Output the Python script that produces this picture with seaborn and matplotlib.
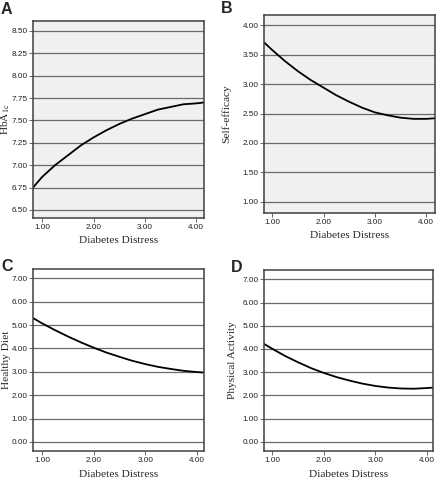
import numpy as np
import pandas as pd
import seaborn as sns
import matplotlib.pyplot as plt

# fitted curves (x = Diabetes Distress)
x_a = [0.82, 1.0, 1.25, 1.5, 1.75, 2.0, 2.25, 2.5, 2.75, 3.0, 3.25, 3.5, 3.75, 4.0, 4.15]
hba1c = [6.75, 6.87, 7.00, 7.11, 7.22, 7.31, 7.39, 7.46, 7.52, 7.57, 7.62, 7.65, 7.68, 7.69, 7.70]

x_b = [0.84, 1.0, 1.25, 1.5, 1.75, 2.0, 2.25, 2.5, 2.75, 3.0, 3.25, 3.5, 3.75, 4.0, 4.17]
self_efficacy = [3.71, 3.58, 3.39, 3.22, 3.07, 2.94, 2.81, 2.70, 2.60, 2.52, 2.47, 2.43, 2.41, 2.41, 2.42]

x_c = [0.82, 1.0, 1.25, 1.5, 1.75, 2.0, 2.25, 2.5, 2.75, 3.0, 3.25, 3.5, 3.75, 4.0, 4.12]
healthy_diet = [5.30, 5.07, 4.78, 4.51, 4.26, 4.03, 3.82, 3.64, 3.47, 3.33, 3.21, 3.12, 3.04, 2.99, 2.97]

x_d = [0.84, 1.0, 1.25, 1.5, 1.75, 2.0, 2.25, 2.5, 2.75, 3.0, 3.25, 3.5, 3.75, 4.0, 4.12]
physical_activity = [4.22, 4.01, 3.70, 3.43, 3.18, 2.97, 2.79, 2.64, 2.51, 2.41, 2.34, 2.30, 2.29, 2.32, 2.34]

x_ticks = [1, 2, 3, 4]
yticks_a = [6.50, 6.75, 7.00, 7.25, 7.50, 7.75, 8.00, 8.25, 8.50]
yticks_b = [1.0, 1.5, 2.0, 2.5, 3.0, 3.5, 4.0]
yticks_cd = [0, 1, 2, 3, 4, 5, 6, 7]

sns.set_style("ticks")
plt.rcParams["mathtext.fontset"] = "stix"

W, H = 439, 480
fig = plt.figure(figsize=(W / 100, H / 100), dpi=100)


def px_axes(l, t, r, b):
    return fig.add_axes([l / W, 1 - b / H, (r - l) / W, (b - t) / H])


panels = [
    # letter, box(l,t,r,b), x, y, xlim, ylim, yticks, ylabel, bg, letter pos, label coords
    ("A", (33, 21, 204, 218), x_a, hba1c, (0.82, 4.15), (6.41, 8.61), yticks_a,
     "HbA$_{\\mathrm{1c}}$", "#f0f0f0", (1, 14), (-0.162, -0.112)),
    ("B", (264, 15, 435, 213), x_b, self_efficacy, (0.84, 4.17), (0.81, 4.175), yticks_b,
     "Self-efficacy", "#f0f0f0", (221, 13), (-0.222, -0.116)),
    ("C", (33, 269, 204, 451), x_c, healthy_diet, (0.82, 4.14), (-0.39, 7.40), yticks_cd,
     "Healthy Diet", "white", (1, 271), (-0.155, -0.13)),
    ("D", (264, 270, 433, 451), x_d, physical_activity, (0.84, 4.12), (-0.39, 7.40), yticks_cd,
     "Physical Activity", "white", (231, 272), (-0.189, -0.13)),
]

for letter, box, xs, ys, xlim, ylim, yt, ylab, bg, lpos, lab in panels:
    ax = px_axes(*box)
    ax.set_facecolor(bg)
    df = pd.DataFrame({"x": xs, "y": ys})
    sns.lineplot(data=df, x="x", y="y", ax=ax, color="black", lw=1.3)
    ax.set_xlim(*xlim)
    ax.set_ylim(*ylim)
    ax.set_xticks(x_ticks)
    ax.set_xticklabels([f"{v:.2f}" for v in x_ticks])
    ax.set_yticks(yt)
    ax.set_yticklabels([f"{v:.2f}" for v in yt])
    ax.yaxis.grid(True, color="#6a6a6a", lw=0.9)
    ax.set_axisbelow(True)
    for s in ax.spines.values():
        s.set_color("#404040")
        s.set_linewidth(1.1)
    ax.tick_params(direction="out", length=3, width=0.7, color="#666666", pad=1,
                   labelsize=5.9, labelcolor="#222222")
    for t in ax.get_xticklabels() + ax.get_yticklabels():
        t.set_family("Liberation Sans")
    ax.set_xlabel("Diabetes Distress", family="Liberation Serif", fontsize=8.2)
    ax.set_ylabel(ylab, family="Liberation Serif", fontsize=8.2)
    ax.xaxis.set_label_coords(0.5, lab[1])
    ax.xaxis.label.set_va("center")
    ax.yaxis.set_label_coords(lab[0], 0.5)
    ax.yaxis.label.set_va("center")
    fig.text(lpos[0] / W, 1 - lpos[1] / H, letter, fontsize=11.5, fontweight="bold",
             family="Liberation Sans", va="baseline", ha="left")

fig.savefig("out.png", dpi=100)
